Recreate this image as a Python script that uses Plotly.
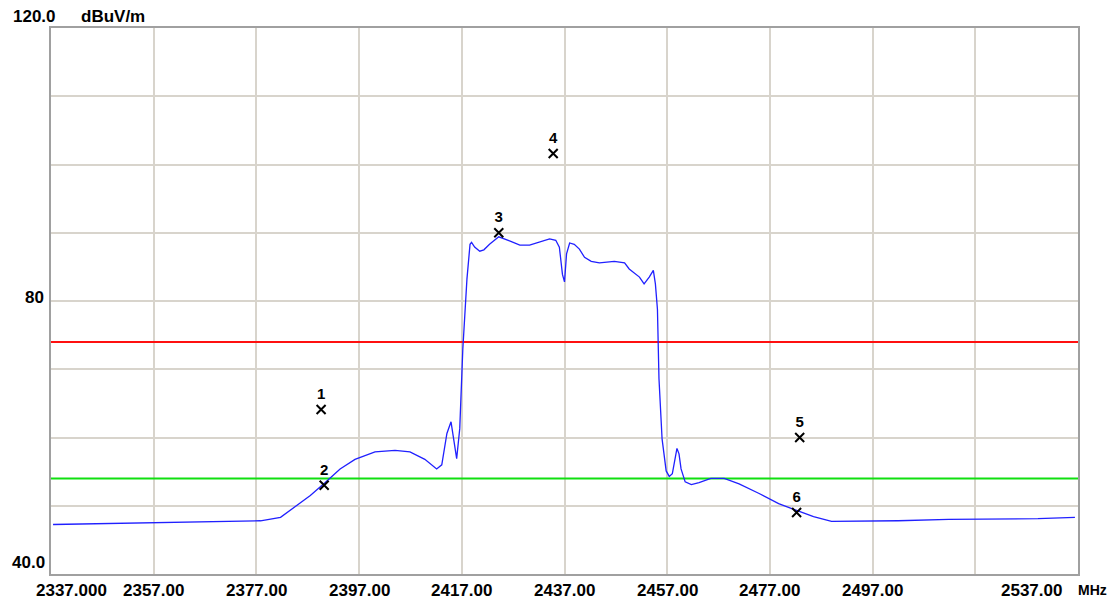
import plotly.graph_objects as go

# Spectrum trace (frequency MHz, level dBuV/m)
freq = [2337.4, 2346.7, 2366.1, 2377.8, 2381.7, 2384.6, 2387.5, 2390.4, 2393.3, 2396.2,
        2400.1, 2404.0, 2406.9, 2409.8, 2412.1, 2413.1, 2414.1, 2414.9, 2415.6, 2416.0,
        2416.6, 2417.2, 2418.0, 2418.6, 2418.9, 2419.5, 2420.5, 2421.3, 2422.4, 2424.2,
        2426.3, 2428.3, 2430.2, 2432.1, 2434.1, 2435.3, 2436.0, 2436.6, 2437.0, 2437.4,
        2438.0, 2438.9, 2439.9, 2440.9, 2442.2, 2443.8, 2446.7, 2448.7, 2449.6, 2451.6,
        2452.5, 2453.5, 2454.3, 2454.7, 2455.1, 2455.4, 2456.0, 2456.8, 2457.4, 2458.0,
        2458.6, 2458.9, 2459.3, 2459.7, 2460.5, 2461.7, 2463.2, 2465.5, 2468.1, 2471.0,
        2474.9, 2478.7, 2482.6, 2485.5, 2489.0, 2502.0, 2511.8, 2521.5, 2529.2, 2536.4]
level = [47.25, 47.4, 47.7, 47.8, 48.3, 49.9, 51.5, 53.4, 55.4, 56.8,
         57.9, 58.1, 57.9, 56.8, 55.4, 56.0, 60.6, 62.3, 59.1, 56.9,
         61.3, 73.0, 83.2, 88.3, 88.6, 87.9, 87.3, 87.5, 88.3, 89.4,
         88.8, 88.2, 88.2, 88.6, 89.1, 88.9, 87.9, 83.9, 82.8, 86.9,
         88.5, 88.3, 87.6, 86.4, 85.8, 85.6, 85.8, 85.6, 84.7, 83.5,
         82.5, 83.5, 84.5, 82.5, 78.8, 68.6, 59.8, 55.1, 54.3, 54.7,
         57.6, 58.4, 57.6, 55.4, 53.5, 53.1, 53.4, 54.0, 54.0, 53.2,
         51.8, 50.3, 49.2, 48.4, 47.7, 47.8, 48.0, 48.0, 48.1, 48.3]

# Limit lines
limit_red = 74.0
limit_green = 54.0

# Markers
marker_labels = ["1", "2", "3", "4", "5", "6"]
marker_freq = [2389.6, 2390.2, 2424.2, 2434.8, 2482.8, 2482.2]
marker_level = [64.1, 53.0, 90.0, 101.6, 60.0, 49.0]

# Axes
x_min, x_max = 2337.0, 2537.0
y_min, y_max = 40.0, 120.0
x_grid = [2357, 2377, 2397, 2417, 2437, 2457, 2477, 2497, 2517]
y_grid = [50, 60, 70, 80, 90, 100, 110]
x_tick_pos = [2340.95, 2357, 2377, 2397, 2417, 2437, 2457, 2477, 2497, 2527.9]
x_tick_text = ["2337.000", "2357.00", "2377.00", "2397.00", "2417.00", "2437.00",
               "2457.00", "2477.00", "2497.00", "2537.00"]

FONT = "Liberation Sans, Arial, sans-serif"
LBL = dict(family=FONT, size=17, color="#000000", weight="bold")

fig = go.Figure()
fig.add_trace(go.Scatter(x=[x_min, x_max], y=[limit_red, limit_red], mode="lines",
                         line=dict(color="#ff1010", width=2), hoverinfo="skip"))
fig.add_trace(go.Scatter(x=[x_min, x_max], y=[limit_green, limit_green], mode="lines",
                         line=dict(color="#10e010", width=2), hoverinfo="skip"))
fig.add_trace(go.Scatter(x=freq, y=level, mode="lines",
                         line=dict(color="#2020ff", width=1.3)))
fig.add_trace(go.Scatter(x=marker_freq, y=marker_level, mode="markers+text",
                         text=marker_labels, textposition="top center",
                         textfont=dict(family=FONT, size=15, color="#000000", weight="bold"),
                         marker=dict(symbol="x-thin", size=9,
                                     line=dict(color="#000000", width=2))))

annotations = []
for xp, t in zip(x_tick_pos, x_tick_text):
    annotations.append(dict(x=xp, y=0, xref="x", yref="paper", text=t, showarrow=False,
                            yanchor="top", yshift=-5, xanchor="center", font=LBL))
annotations += [
    dict(x=1, y=0, xref="paper", yref="paper", text="MHz", showarrow=False,
         xanchor="left", yanchor="top", xshift=-2, yshift=-6,
         font=dict(family=FONT, size=14, color="#000000", weight="bold")),
    dict(x=0, y=1, xref="paper", yref="paper", text="120.0", showarrow=False,
         xanchor="left", yanchor="middle", xshift=-40, yshift=12, font=LBL),
    dict(x=0, y=1, xref="paper", yref="paper", text="dBuV/m", showarrow=False,
         xanchor="left", yanchor="middle", xshift=28, yshift=12, font=LBL),
    dict(x=0, y=80, xref="paper", yref="y", text="80", showarrow=False,
         xanchor="right", yanchor="middle", xshift=-5, yshift=4, font=LBL),
    dict(x=0, y=40, xref="paper", yref="y", text="40.0", showarrow=False,
         xanchor="right", yanchor="middle", xshift=-4, yshift=12, font=LBL),
]

fig.update_layout(
    width=1110, height=594,
    margin=dict(l=43, r=40, t=20, b=28, autoexpand=False),
    paper_bgcolor="white", plot_bgcolor="white",
    showlegend=False,
    annotations=annotations,
    xaxis=dict(range=[x_min, x_max], tickvals=x_grid, showticklabels=False,
               showgrid=True, gridcolor="#d8d4cc", gridwidth=1.5, zeroline=False,
               showline=True, linecolor="#a0a0a0", linewidth=2, mirror=True,
               fixedrange=True),
    yaxis=dict(range=[y_min, y_max], tickvals=y_grid, showticklabels=False,
               showgrid=True, gridcolor="#d8d4cc", gridwidth=1.5, zeroline=False,
               showline=True, linecolor="#a0a0a0", linewidth=2, mirror=True,
               fixedrange=True),
)

fig.write_html("out.html")
